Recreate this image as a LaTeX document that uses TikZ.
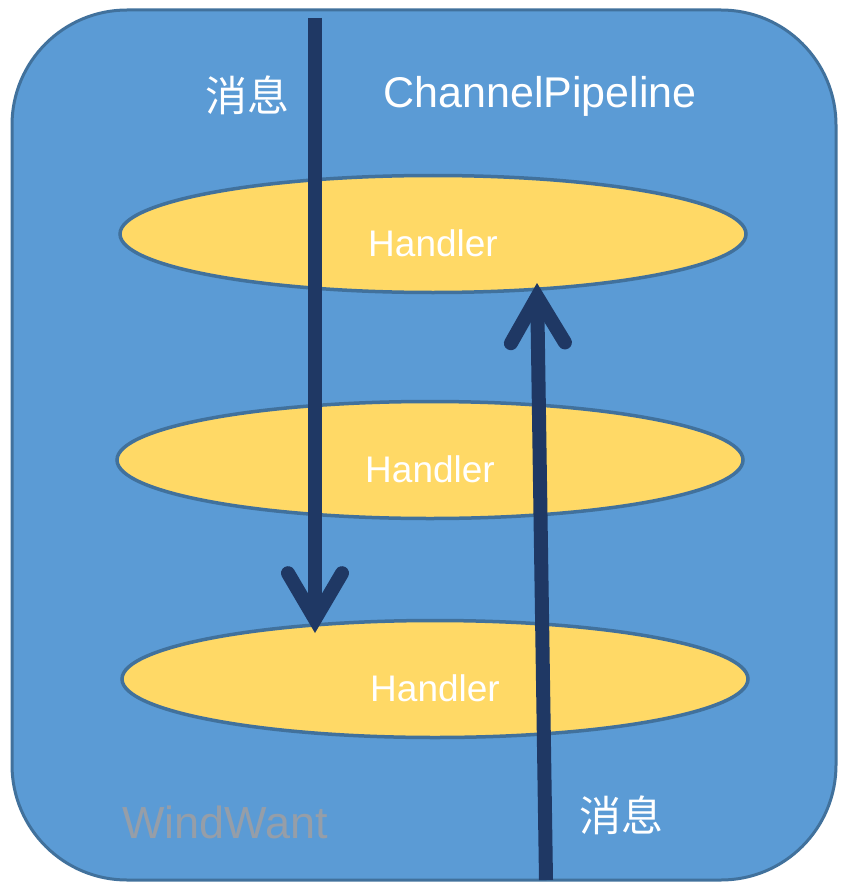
\documentclass[tikz,border=0pt]{standalone}
\usepackage{fontspec}
\setmainfont{Liberation Sans}
\newfontfamily\cjk{Noto Sans CJK SC}
\usetikzlibrary{shapes.geometric, arrows.meta}
\definecolor{PipeBlue}{RGB}{91,155,213}
\definecolor{EdgeBlue}{RGB}{65,113,156}
\definecolor{HandlerYellow}{RGB}{255,217,102}
\definecolor{FlowNavy}{RGB}{31,56,100}
\definecolor{MarkGray}{RGB}{150,158,168}

\begin{document}
\begin{tikzpicture}[x=1pt, y=-1pt,
    handler/.style={ellipse, draw=EdgeBlue, line width=3.5pt, fill=HandlerYellow, text=white,
      inner sep=0pt, minimum width=626pt, minimum height=117pt,
      font=\fontsize{37}{40}\selectfont, text height=45pt, text depth=0pt},
    flow/.style={draw=FlowNavy, line width=14pt,
      -{Straight Barb[length=46pt, width=54pt, line join=miter, line cap=round]}},
    msg/.style={text=white, inner sep=0pt, font=\cjk\fontsize{42}{44}\selectfont}]
    \useasboundingbox (0,0) rectangle (850,896);

    % Pipeline box
    \draw[draw=EdgeBlue, line width=3pt, fill=PipeBlue, rounded corners=115pt] (12,10) rectangle (836,880);
    \node[text=white, anchor=base, inner sep=0pt, font=\fontsize{43}{46}\selectfont] (title) at (540,108) {ChannelPipeline};
    \node[text=MarkGray, anchor=base, inner sep=0pt, font=\fontsize{45}{48}\selectfont] (mark) at (225,838) {WindWant};

    % Handlers
    \node[handler] (hd1) at (433,234) {Handler};
    \node[handler] (hd2) at (430,460) {Handler};
    \node[handler] (hd3) at (435,679) {Handler};

    % Messages
    \node[msg] (msgin) at (247,95) {消息};
    \node[msg] (msgout) at (621,815) {消息};

    % Flow arrows
    \coordinate (inTop) at (315,18);
    \coordinate (inTip) at (315,633);
    \coordinate (outBot) at (546,880);
    \coordinate (outTip) at (537,283);
    \draw[flow] (inTop) -- (inTip);
    \draw[flow] (outBot) -- (outTip);
\end{tikzpicture}
\end{document}
